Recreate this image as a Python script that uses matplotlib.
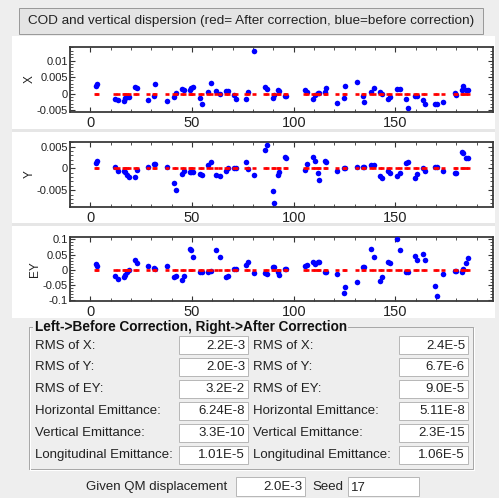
import matplotlib
matplotlib.use("Agg")
import matplotlib.pyplot as plt
from matplotlib.patches import Rectangle
from matplotlib.ticker import FixedLocator, MultipleLocator, FuncFormatter

plt.rcParams['font.family'] = ['Liberation Sans', 'DejaVu Sans']
plt.rcParams['axes.unicode_minus'] = False

# BPM positions along the ring
s_pos = [2.8, 3.3, 12.3, 13.5, 16.4, 17.2, 18.0, 19.2, 22.0, 23.0,
         28.2, 31.5, 32.0, 37.8, 41.0, 41.9, 45.2, 46.3, 49.0, 49.6,
         50.6, 53.9, 54.7, 57.8, 59.4, 62.0, 63.6, 66.7, 67.7, 70.6,
         71.8, 76.7, 77.5, 80.3, 86.0, 86.9, 89.7, 90.3, 92.1, 92.6,
         95.9, 96.4, 105.4, 106.4, 109.5, 110.3, 111.8, 112.3, 115.3, 115.9,
         121.2, 124.5, 125.0, 130.9, 134.0, 134.8, 137.9, 139.6, 142.2, 143.5,
         146.6, 147.5, 151.0, 152.2, 155.3, 156.3, 159.6, 160.6, 163.7, 164.7,
         169.5, 170.4, 173.4, 179.3, 179.7, 182.6, 183.4, 184.6, 185.5]

# horizontal orbit before correction
x_before = [0.0024, 0.0030, -0.0016, -0.0019, -0.0021, -0.0012, -0.0009, -0.0009, 0.0020, 0.0018,
            -0.0019, -0.0006, 0.0029, -0.0021, -0.0011, 0.0003, 0.0013, 0.0010, 0.0010, 0.0016,
            0.0020, -0.0012, -0.0032, 0.0005, 0.0032, 0.0007, -0.0002, 0.0008, 0.0009, -0.0005,
            -0.0016, -0.0015, 0.0006, 0.0128, 0.0020, 0.0013, -0.0012, -0.0004, 0.0011, 0.0009,
            -0.0006, -0.0006, 0.0010, 0.0004, -0.0015, -0.0004, 0.0003, 0.0003, 0.0004, 0.0018,
            -0.0029, -0.0012, 0.0023, 0.0035, -0.0007, -0.0024, 0.0006, 0.0018, 0.0006, -0.0001,
            -0.0015, -0.0011, 0.0014, 0.0015, -0.0015, -0.0044, -0.0007, -0.0007, -0.0019, -0.0032,
            -0.0032, -0.0032, -0.0026, 0.0003, -0.0005, 0.0010, 0.0024, 0.0010, 0.0010]

# vertical orbit before correction
y_before = [0.0012, 0.0018, 0.0004, -0.0005, -0.0007, -0.0008, -0.0015, -0.0020, -0.0020, -0.0003,
            0.0004, 0.0010, 0.0011, 0.0004, -0.0034, -0.0049, -0.0012, -0.0005, -0.0008, -0.0008,
            -0.0008, -0.0013, -0.0015, 0.0008, 0.0015, -0.0015, -0.0018, -0.0006, 0.0002, 0.0002,
            0.0002, 0.0015, -0.0001, -0.0015, 0.0042, 0.0053, -0.0053, -0.0079, -0.0015, -0.0008,
            0.0027, 0.0023, -0.0003, 0.0010, 0.0027, 0.0017, -0.0011, -0.0026, 0.0017, 0.0015,
            -0.0007, 0.0000, 0.0000, 0.0004, 0.0004, 0.0004, 0.0007, 0.0008, -0.0018, -0.0021,
            -0.0005, -0.0011, -0.0018, -0.0011, 0.0013, 0.0015, -0.0021, -0.0013, 0.0000, -0.0005,
            0.0004, 0.0004, -0.0007, -0.0010, -0.0010, 0.0037, 0.0036, 0.0025, 0.0024]

# vertical dispersion before correction
ey_before = [0.019, 0.012, -0.020, -0.030, -0.024, -0.018, -0.006, -0.002, 0.032, 0.021,
             0.011, 0.005, 0.004, 0.013, -0.024, -0.019, -0.033, -0.019, 0.067, 0.066,
             0.043, -0.007, -0.007, -0.009, -0.005, 0.065, 0.043, -0.025, -0.020, 0.004,
             0.004, 0.016, 0.027, -0.010, -0.011, -0.013, 0.010, 0.009, -0.009, -0.018,
             0.004, 0.004, 0.013, 0.016, 0.025, 0.018, 0.024, 0.024, -0.009, -0.009,
             -0.015, -0.075, -0.056, -0.040, 0.009, 0.010, 0.067, 0.043, -0.036, -0.023,
             0.024, 0.022, 0.101, 0.064, -0.009, -0.009, 0.044, 0.031, 0.053, 0.031,
             -0.052, -0.088, -0.013, -0.005, -0.005, -0.009, 0.002, 0.021, 0.038]

# after correction the residuals are at the 1e-5 level
x_after = [0.0] * len(s_pos)
y_after = [0.0] * len(s_pos)
ey_after = [0.0] * len(s_pos)

x_ticks = [0, 50, 100, 150]
x_range = (-10, 198)

panels = [
    ("X", x_before, x_after, (-0.0055, 0.0141), [-0.005, 0, 0.005, 0.01], 0.001),
    ("Y", y_before, y_after, (-0.0088, 0.0060), [-0.005, 0, 0.005], 0.001),
    ("EY", ey_before, ey_after, (-0.102, 0.109), [-0.1, -0.05, 0, 0.05, 0.1], 0.01),
]

# summary table: label, before, after
rows = [
    ("RMS of X:", "2.2E-3", "2.4E-5"),
    ("RMS of Y:", "2.0E-3", "6.7E-6"),
    ("RMS of EY:", "3.2E-2", "9.0E-5"),
    ("Horizontal Emittance:", "6.24E-8", "5.11E-8"),
    ("Vertical Emittance:", "3.3E-10", "2.3E-15"),
    ("Longitudinal Emittance:", "1.01E-5", "1.06E-5"),
]
qm_displacement = "2.0E-3"
seed = "17"

W, H = 499, 498
fig = plt.figure(figsize=(W / 100, H / 100), dpi=100)
fig.patch.set_facecolor('#eeeeee')

# pixel-space canvas for the window widgets
ui = fig.add_axes([0, 0, 1, 1])
ui.set_xlim(0, W)
ui.set_ylim(H, 0)
ui.axis('off')

PX = 0.72  # one pixel in points
FS = 9.5


def rect(x0, y0, x1, y1, fc, ec='none', lw=1.0, z=1):
    ui.add_patch(Rectangle((x0, y0), x1 - x0, y1 - y0, facecolor=fc,
                           edgecolor=ec, linewidth=lw * PX, zorder=z))


def field(x0, y0, x1, y1, text):
    rect(x0, y0, x1, y1, 'white', '#b8b8b8', 1)
    ui.text(x1 - 3, (y0 + y1) / 2 + 0.5, text, ha='right', va='center',
            fontsize=FS, color='#222222')


# title button
rect(19, 8, 483, 34, '#e4e4e4', '#9a9a9a', 1)
ui.text(251, 21, "COD and vertical dispersion (red= After correction, blue=before correction)",
        ha='center', va='center', fontsize=9.7, color='#222222')

# white plotting area with separators
rect(12, 36, 495, 318, 'white')
rect(12, 129, 495, 132, '#e6e6e6')
rect(12, 223, 495, 226, '#e6e6e6')

# group box
ui.plot([29, 29, 473, 473, 29], [327, 469, 469, 327, 327], color='#a8a8a8', lw=PX)
ui.plot([30, 30, 474, 474], [328, 470, 470, 328], color='white', lw=PX)
rect(33, 319, 348, 335, '#eeeeee', z=2)
ui.text(35, 327, "Left->Before Correction, Right->After Correction", ha='left', va='center',
        fontsize=9.8, fontweight='bold', color='#111111', zorder=3)

row_y0 = 336
pitch = 21.9
fh = 18
for i, (lab, before, after) in enumerate(rows):
    y0 = row_y0 + i * pitch
    ym = y0 + fh / 2
    ui.text(35, ym + 0.5, lab, ha='left', va='center', fontsize=FS, color='#222222')
    field(179, y0, 248, y0 + fh, before)
    ui.text(253, ym + 0.5, lab, ha='left', va='center', fontsize=FS, color='#222222')
    field(399, y0, 468, y0 + fh, after)

ui.text(86, 487, "Given QM displacement", ha='left', va='center', fontsize=FS, color='#222222')
field(236, 477, 305, 496, qm_displacement)
ui.text(312, 487, "Seed", ha='left', va='center', fontsize=FS, color='#222222')
rect(348, 477, 419, 496, 'white', '#b8b8b8', 1)
ui.text(351, 487.5, seed, ha='left', va='center', fontsize=FS, color='#222222')

# the three orbit / dispersion plots
tops = [47, 142.3, 236.7]
bottoms = [112, 206.7, 300.7]
left, right = 70, 493


def tick_fmt(v, _):
    if abs(v) < 1e-12:
        return "0"
    return "%g" % v


for (name, before, after, ylim, yticks, yminor), top, bot in zip(panels, tops, bottoms):
    ax = fig.add_axes([left / W, 1 - bot / H, (right - left) / W, (bot - top) / H])
    ax.set_facecolor('white')
    ax.plot(s_pos, before, linestyle='none', marker='o', markersize=4.0,
            markerfacecolor='#0000ff', markeredgewidth=0, zorder=3)
    ax.plot(s_pos, after, linestyle='none', marker='_', markersize=3.2,
            markeredgewidth=1.9, color='#ff0000', zorder=4)
    ax.set_xlim(*x_range)
    ax.set_ylim(*ylim)
    ax.xaxis.set_major_locator(FixedLocator(x_ticks))
    ax.xaxis.set_minor_locator(MultipleLocator(10))
    ax.yaxis.set_major_locator(FixedLocator(yticks))
    ax.yaxis.set_minor_locator(MultipleLocator(yminor))
    ax.yaxis.set_major_formatter(FuncFormatter(tick_fmt))
    ax.tick_params(which='both', direction='in', top=True, right=True, color='#333333')
    ax.tick_params(which='major', length=3.5, width=0.8)
    ax.tick_params(which='minor', length=2, width=0.6)
    ax.tick_params(axis='x', labelsize=10.5, pad=3, labelcolor='#222222')
    ax.tick_params(axis='y', labelsize=8, pad=1.5, labelcolor='#222222')
    ax.set_ylabel(name, fontsize=8.5, labelpad=1, color='#222222')
    for sp in ax.spines.values():
        sp.set_color('#3a3a3a')
        sp.set_linewidth(1.3)

fig.savefig("out.png", dpi=100, facecolor=fig.get_facecolor())
